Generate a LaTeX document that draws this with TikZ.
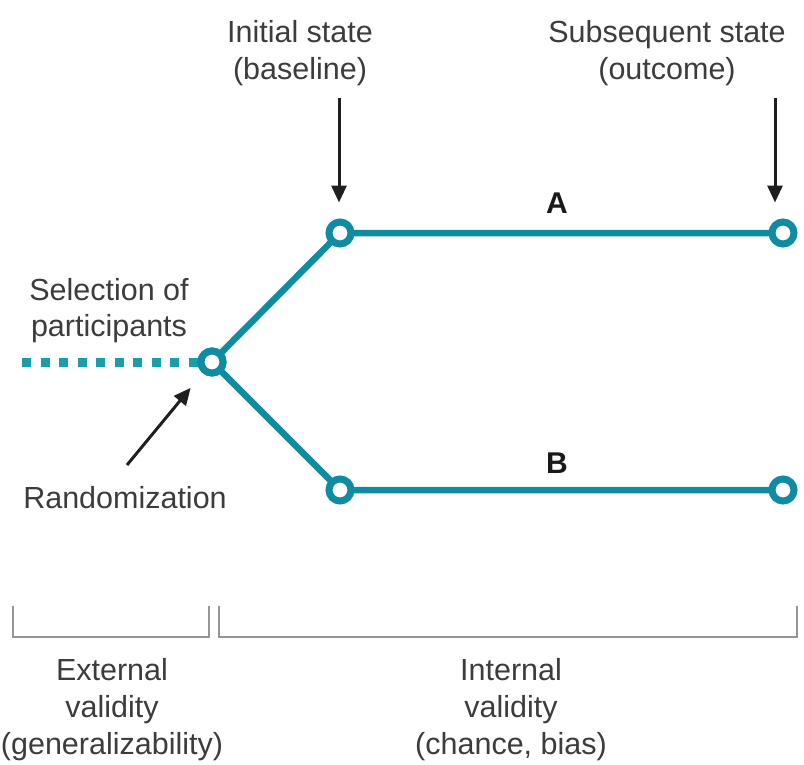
\documentclass[tikz,border=0pt]{standalone}
\usepackage{fontspec}
\setmainfont{Liberation Sans}
\usetikzlibrary{arrows.meta,backgrounds}
\definecolor{tealA}{RGB}{16,140,162}
\definecolor{tealB}{RGB}{26,158,170}
\definecolor{txt}{RGB}{60,60,60}
\definecolor{brkc}{RGB}{150,150,150}
\begin{document}
\begin{tikzpicture}[x=1pt,y=-1pt,
  lbl/.style={font=\fontsize{30.5}{37}\selectfont, text=txt, anchor=base, inner sep=0pt},
  letter/.style={font=\bfseries\fontsize{30}{32}\selectfont, text=black!90, anchor=base, inner sep=0pt},
  pt/.style={circle, draw=tealA, line width=7pt, fill=white, minimum size=22pt, inner sep=0pt},
  branch/.style={draw=tealA, line width=6.5pt},
  dots/.style={draw=tealB, line width=9pt, dash pattern=on 9pt off 9.5pt},
  ptr/.style={draw=black!88, line width=3pt, -{Triangle[length=17pt,width=15pt]}},
  brk/.style={draw=brkc, line width=1.6pt}]
\useasboundingbox (0,0) rectangle (804,764);

% points
\node[pt] (r)  at (212,362) {};
\node[pt] (a0) at (340,233) {};
\node[pt] (a1) at (783,233) {};
\node[pt] (b0) at (340,490) {};
\node[pt] (b1) at (783,490) {};

\begin{scope}[on background layer]
  \draw[branch] (r.center) -- (a0.center) -- (a1.center);
  \draw[branch] (r.center) -- (b0.center) -- (b1.center);
  \coordinate (s0) at (22,362);
  \draw[dots] (s0) -- (r.center);
\end{scope}
% redraw the junction to cover the dots
\node[pt] at (r) {};

% arrows
\coordinate (i0) at (339,98);
\coordinate (i1) at ([xshift=-1pt,yshift=16pt]a0.north);
\draw[ptr] (i0) -- (i1);
\coordinate (o0) at (775,98);
\coordinate (o1) at ([xshift=-8pt,yshift=16pt]a1.north);
\draw[ptr] (o0) -- (o1);
\coordinate (rz) at (127,465);
\draw[ptr, shorten >=19pt] (rz) -- (r);

% brackets
\coordinate (e0) at (13,606);  \coordinate (e1) at (209,606);
\coordinate (n0) at (219,606); \coordinate (n1) at (797,606);
\draw[brk] (e0) -- ++(0,31) -| (e1);
\draw[brk] (n0) -- ++(0,31) -| (n1);

% labels
\node[lbl] (t1) at (300,42) {Initial state};
\node[lbl] (t2) at (300,79) {(baseline)};
\node[lbl] (t3) at (667,42) {Subsequent state};
\node[lbl] (t4) at (667,79) {(outcome)};
\node[letter] (la) at (557,213) {A};
\node[letter] (lb) at (557,473) {B};
\node[lbl] (t5) at (109,300) {Selection of};
\node[lbl] (t6) at (109,336) {participants};
\node[lbl] (t7) at (125,508) {Randomization};
\node[lbl] (t8) at (112,680) {External};
\node[lbl] (t9) at (112,717) {validity};
\node[lbl] (t10) at (112,754) {(generalizability)};
\node[lbl] (t11) at (511,680) {Internal};
\node[lbl] (t12) at (511,717) {validity};
\node[lbl] (t13) at (511,754) {(chance, bias)};
\end{tikzpicture}
\end{document}
